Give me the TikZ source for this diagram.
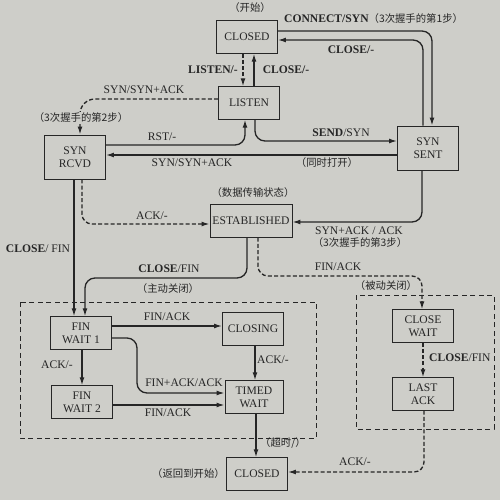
\documentclass[tikz,border=0pt]{standalone}
\usepackage{fontspec}
\setmainfont{Liberation Serif}
\newfontfamily\cjk{Noto Sans CJK SC}
\usetikzlibrary{arrows.meta}

\definecolor{paper}{RGB}{206,206,201}
\definecolor{ink}{RGB}{38,38,38}
\newcommand\zhtext[1]{{\cjk\fontsize{5.9}{7.5}\selectfont #1}}

\tikzset{
  state/.style={draw=ink, line width=0.55pt, minimum width=1.22cm, minimum height=0.65cm,
    align=center, inner sep=1pt, font=\fontsize{6.6}{7.6}\selectfont, text=ink},
  tallstate/.style={state, minimum height=0.88cm},
  trans/.style={draw=ink, line width=0.75pt, rounded corners=2mm,
    -{Latex[length=1.6mm,width=1mm]}},
  dtrans/.style={trans, dash pattern=on 0.8mm off 0.45mm},
  zone/.style={draw=ink, line width=0.45pt, dash pattern=on 1mm off 0.7mm},
  lab/.style={inner sep=0.5pt, font=\fontsize{6.6}{7.6}\selectfont, text=ink},
}

\begin{document}
\begin{tikzpicture}[x=0.02cm,y=-0.02cm]

\useasboundingbox (0,0) rectangle (500,500);
\fill[paper] (0,0) rectangle (500,500);

\draw[zone] (20,302) rectangle (316,438);
\draw[zone] (356,295) rectangle (494,429);

\node[state] (closed) at (247,37) {CLOSED};
\node[state] (listen) at (249,103) {LISTEN};
\node[tallstate] (synrcvd) at (75,157) {SYN\\RCVD};
\node[tallstate] (synsent) at (428,148) {SYN\\SENT};
\node[state, minimum width=1.64cm] (estab) at (251,221) {ESTABLISHED};
\node[state] (finwait1) at (81,333) {FIN\\WAIT 1};
\node[state] (closing) at (253,329) {CLOSING};
\node[state] (finwait2) at (82,402) {FIN\\WAIT 2};
\node[state, minimum width=1.16cm] (timedwait) at (254,397) {TIMED\\WAIT};
\node[state] (closewait) at (423,326) {CLOSE\\WAIT};
\node[state] (lastack) at (423,394) {LAST\\ACK};
\node[state] (closedend) at (257,474) {CLOSED};

\draw[trans] (closed.east |- 0,31) -| (synsent.north -| 432,0);
\draw[trans] (synsent.north -| 423,0) |- (closed.east |- 0,40);
\draw[dtrans] (closed.south -| 243,0) -- (listen.north -| 243,0);
\draw[trans] (listen.north -| 254,0) -- (closed.south -| 254,0);
\draw[dtrans, rounded corners=3mm] (listen.west |- 0,99) -| (synrcvd.north -| 80,0);
\draw[trans] (synrcvd.east |- 0,145) -| (listen.south -| 245,0);
\draw[trans] (synsent.west |- 0,155) -- (synrcvd.east |- 0,155);
\draw[trans] (listen.south -| 255,0) |- (synsent.west |- 0,141);
\draw[dtrans] (synrcvd.south -| 82,0) |- (estab.west |- 0,224);
\draw[trans] (synsent.south -| 422,0) |- (estab.east |- 0,222);
\draw[trans] (synrcvd.south -| 74,0) -- (finwait1.north -| 74,0);
\draw[trans] (estab.south -| 247,0) |- (85,278) -- (finwait1.north -| 85,0);
\draw[dtrans] (estab.south -| 258,0) |- (422,276) -- (closewait.north -| 422,0);

\draw[trans] (finwait1.east |- 0,326) -- (closing.west |- 0,326);
\draw[trans] (finwait1.east |- 0,338) -| (137,393) -- (timedwait.west |- 0,393);
\draw[trans] (finwait1.south -| 82,0) -- (finwait2.north -| 82,0);
\draw[trans] (finwait2.east |- 0,405) -- (timedwait.west |- 0,405);
\draw[trans] (closing.south -| 255,0) -- (timedwait.north -| 255,0);
\draw[trans] (timedwait.south -| 256,0) -- (closedend.north -| 256,0);
\draw[dtrans] (closewait) -- (lastack);
\draw[dtrans] (lastack.south -| 424,0) |- (closedend.east |- 0,472);

\node[lab] (start) at (250,8) {\zhtext{（开始）}};
\node[lab, anchor=west] (lconnect) at (283,19) {\textbf{CONNECT/SYN}\zhtext{（3次握手的第1步）}};
\node[lab] (lclose1) at (351,50) {\textbf{CLOSE/-}};
\node[lab] (llisten) at (213,70) {\textbf{LISTEN/-}};
\node[lab] (lclose2) at (286,70) {\textbf{CLOSE/-}};
\node[lab] (lsyn1) at (144,90) {SYN/SYN+ACK};
\node[lab, fill=paper] (lstep2) at (81,118) {\zhtext{（3次握手的第2步）}};
\node[lab] (lrst) at (162,137) {RST/-};
\node[lab] (lsend) at (341,133) {\textbf{SEND}/SYN};
\node[lab] (lsyn2) at (192,163) {SYN/SYN+ACK};
\node[lab] (lsimul) at (327,163) {\zhtext{（同时打开）}};
\node[lab] (ldata) at (253,193) {\zhtext{（数据传输状态）}};
\node[lab] (lack1) at (152,216) {ACK/-};
\node[lab] (lsynack) at (359,231) {SYN+ACK / ACK};
\node[lab] (lstep3) at (360,243) {\zhtext{（3次握手的第3步）}};
\node[lab] (lclose3) at (38,249) {\textbf{CLOSE}/ FIN};
\node[lab] (lclose4) at (169,269) {\textbf{CLOSE}/FIN};
\node[lab] (lactive) at (168,289) {\zhtext{（主动关闭）}};
\node[lab] (lfin1) at (338,267) {FIN/ACK};
\node[lab] (lpassive) at (386,286) {\zhtext{（被动关闭）}};
\node[lab] (lfin2) at (167,317) {FIN/ACK};
\node[lab] (lack2) at (57,365) {ACK/-};
\node[lab] (lfinack) at (184,383) {FIN+ACK/ACK};
\node[lab] (lfin3) at (168,413) {FIN/ACK};
\node[lab] (lack3) at (273,360) {ACK/-};
\node[lab, anchor=west] (ltimeout) at (259,443) {\zhtext{（超时/）}};
\node[lab, anchor=west] (lclose5) at (428,358) {\textbf{CLOSE}/FIN};
\node[lab] (lack4) at (355,462) {ACK/-};
\node[lab, anchor=east] (lback) at (226,474) {\zhtext{（返回到开始）}};

\end{tikzpicture}
\end{document}
